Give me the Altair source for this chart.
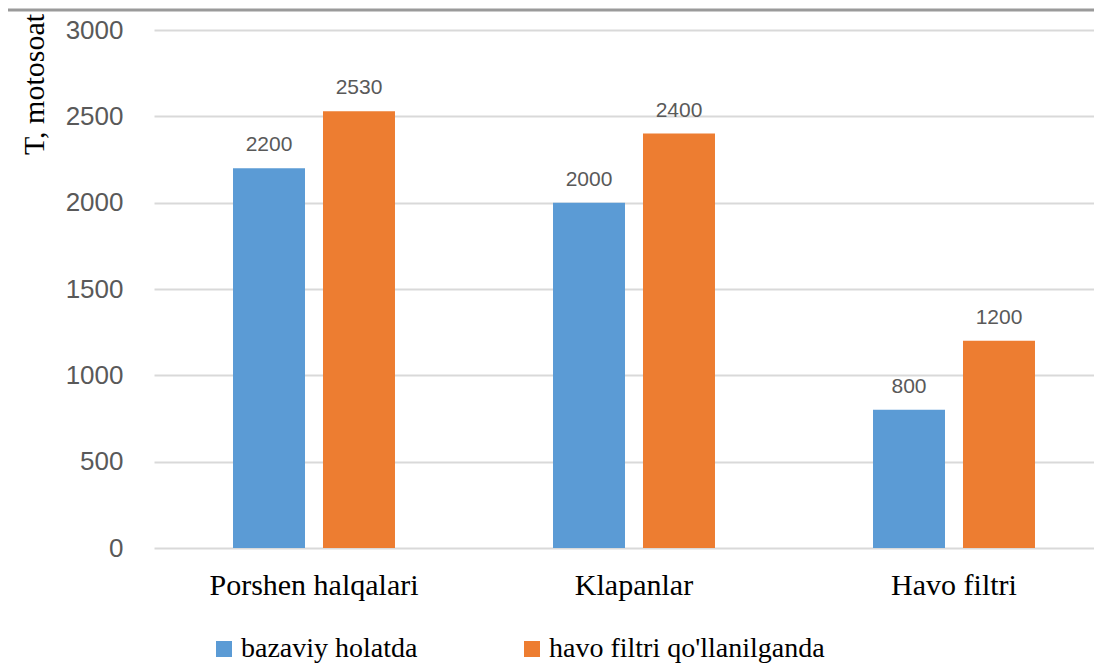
import altair as alt
import pandas as pd

categories = ["Porshen halqalari", "Klapanlar", "Havo filtri"]
series = ["bazaviy holatda", "havo filtri qo'llanilganda"]
baseline_vals = [2200, 2000, 800]
filter_vals = [2530, 2400, 1200]
y_ticks = [0, 500, 1000, 1500, 2000, 2500, 3000]
colors = ["#5B9BD5", "#ED7D31"]

rows = []
for c, b, f in zip(categories, baseline_vals, filter_vals):
    rows.append({"category": c, "series": series[0], "value": b})
    rows.append({"category": c, "series": series[1], "value": f})
df = pd.DataFrame(rows)

x_enc = alt.X(
    "category:N", sort=categories,
    scale=alt.Scale(range=[0, 960], paddingInner=0, paddingOuter=0),
    axis=alt.Axis(title=None, labelAngle=0, labelFont="Liberation Serif",
                  labelFontSize=30, labelColor="black", labelPadding=22,
                  labelLimit=600,
                  ticks=False, tickSize=0, domain=False, grid=False),
)
xo_enc = alt.XOffset("series:N", sort=series,
                     scale=alt.Scale(paddingInner=0.2, paddingOuter=0.878))
y_enc = alt.Y(
    "value:Q",
    scale=alt.Scale(domain=[0, 3000], nice=False),
    axis=alt.Axis(values=y_ticks, format="d", title="T, motosoat",
                  titleFont="Liberation Serif",
                  titleFontSize=30, titleFontWeight="normal", titleColor="black",
                  titleX=-111, titleY=54, titleAngle=270, titleAlign="center",
                  titleBaseline="alphabetic",
                  labelFont="Liberation Sans", labelFontSize=26, labelColor="#595959",
                  labelPadding=31, ticks=False, tickSize=0, domain=False,
                  grid=True, gridColor="#D9D9D9", gridWidth=2),
)

bars = alt.Chart(df).mark_bar().encode(
    x=x_enc, xOffset=xo_enc, y=y_enc,
    color=alt.Color("series:N", sort=series,
                    scale=alt.Scale(domain=series, range=colors),
                    legend=alt.Legend(orient="none", legendX=56, legendY=605,
                                      direction="horizontal", title=None,
                                      symbolType="square", symbolSize=256,
                                      symbolStrokeWidth=0,
                                      labelFont="Liberation Serif", labelFontSize=28,
                                      labelColor="black", labelOffset=3,
                                      columnPadding=100, labelLimit=600)),
)

labels = alt.Chart(df).mark_text(
    font="Liberation Sans", fontSize=21, color="#595959",
    baseline="alphabetic", dy=-17,
).encode(x=x_enc, xOffset=xo_enc, y=y_enc, text=alt.Text("value:Q"))

top_rule = alt.Chart(pd.DataFrame({"a": [0]})).mark_rule(
    color="#9a9a9a", strokeWidth=3
).encode(x=alt.value(-146), x2=alt.value(950), y=alt.value(-20))

chart = alt.layer(bars, labels, top_rule).properties(
    width=940, height=518,
    padding={"left": 146, "top": 22, "right": 0, "bottom": 118},
    autosize=alt.AutoSizeParams(type="none"),
).configure_view(stroke=None)

chart.save("out.html", embed_options={"renderer": "svg", "actions": False})
